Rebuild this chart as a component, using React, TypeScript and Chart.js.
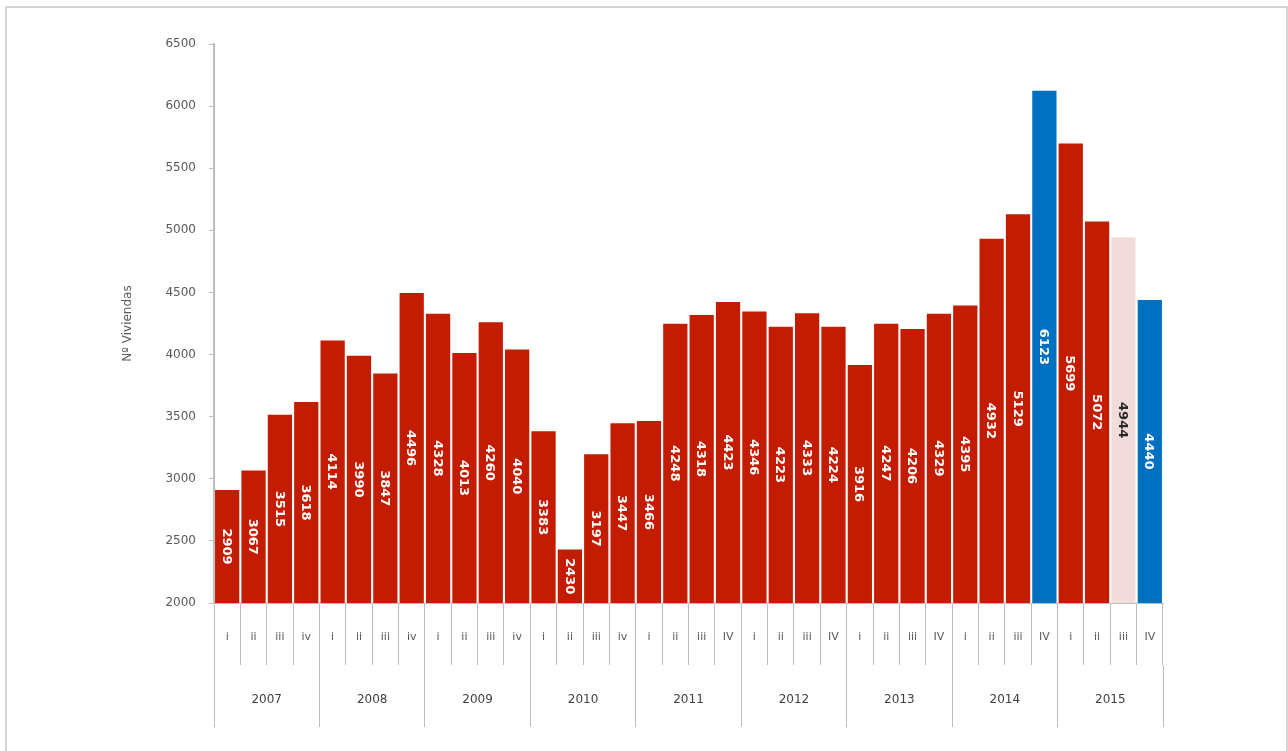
import React, { useEffect, useRef } from "react";
import { Chart, registerables } from "chart.js";

Chart.register(...registerables);

// quarterly figures, 2007-I .. 2015-IV
const years = ["2007", "2008", "2009", "2010", "2011", "2012", "2013", "2014", "2015"];
const quarters = [
  "i", "ii", "iii", "iv",
  "i", "ii", "iii", "iv",
  "i", "ii", "iii", "iv",
  "i", "ii", "iii", "iv",
  "i", "ii", "iii", "IV",
  "i", "ii", "iii", "IV",
  "i", "ii", "iii", "IV",
  "i", "ii", "iii", "IV",
  "i", "ii", "iii", "IV",
];
const viviendas = [
  2909, 3067, 3515, 3618,
  4114, 3990, 3847, 4496,
  4328, 4013, 4260, 4040,
  3383, 2430, 3197, 3447,
  3466, 4248, 4318, 4423,
  4346, 4223, 4333, 4224,
  3916, 4247, 4206, 4329,
  4395, 4932, 5129, 6123,
  5699, 5072, 4944, 4440,
];
const yTicks = [2000, 2500, 3000, 3500, 4000, 4500, 5000, 5500, 6000, 6500];

const RED = "#C41C00";
const BLUE = "#0070C0";
const PINK = "#F2DCDB";
const AXIS = "#BDBDBD";

const blueBars = [31, 35];
const pinkBars = [34];

const barColor = (i: number) =>
  blueBars.includes(i) ? BLUE : pinkBars.includes(i) ? PINK : RED;

const valueLabels = {
  id: "valueLabels",
  afterDatasetsDraw(chart: Chart) {
    const { ctx, chartArea } = chart;
    const meta = chart.getDatasetMeta(0);
    ctx.save();
    ctx.font = "bold 13px 'DejaVu Sans'";
    ctx.textAlign = "center";
    ctx.textBaseline = "middle";
    meta.data.forEach((bar: any, i: number) => {
      const { x, y, base } = bar.getProps(["x", "y", "base"], true);
      // bars start at 0, the visible part ends at the bottom of the plot
      const bottom = Math.min(base, chartArea.bottom);
      ctx.save();
      ctx.translate(x, (y + bottom) / 2);
      ctx.rotate(Math.PI / 2);
      ctx.fillStyle = pinkBars.includes(i) ? "#262626" : "#ffffff";
      ctx.fillText(String(viviendas[i]), 0, 1);
      ctx.restore();
    });
    ctx.restore();
  },
};

const App: React.FC = () => {
  const canvasRef = useRef<HTMLCanvasElement | null>(null);
  const chartRef = useRef<Chart | null>(null);

  useEffect(() => {
    document.body.style.margin = "0";
    if (!canvasRef.current) return;
    const ctx = canvasRef.current.getContext("2d");
    if (!ctx) return;

    chartRef.current?.destroy();
    chartRef.current = new Chart(ctx, {
      type: "bar",
      data: {
        labels: quarters,
        datasets: [
          {
            label: "Nº Viviendas",
            data: viviendas,
            backgroundColor: viviendas.map((_, i) => barColor(i)),
            barPercentage: 0.92,
            categoryPercentage: 1,
            xAxisID: "x",
            yAxisID: "y",
          },
        ],
      },
      options: {
        responsive: false,
        animation: false,
        layout: { padding: { left: 0, top: 44, right: 125, bottom: 24 } },
        plugins: {
          legend: { display: false },
          tooltip: { enabled: false },
        },
        scales: {
          x: {
            type: "category",
            position: "bottom",
            weight: 0,
            offset: true,
            grid: {
              offset: true,
              drawOnChartArea: false,
              tickLength: 62,
              color: AXIS,
              lineWidth: 1,
            },
            border: { color: AXIS },
            ticks: {
              autoSkip: false,
              maxRotation: 0,
              padding: -34,
              color: "#595959",
              font: { family: "'DejaVu Sans'", size: 11 },
            },
            afterFit: (scale: any) => {
              scale.height = 62;
            },
          },
          x2: {
            type: "category",
            labels: years,
            position: "bottom",
            weight: 1,
            offset: true,
            grid: {
              offset: true,
              drawOnChartArea: false,
              tickLength: 62,
              color: AXIS,
              lineWidth: 1,
            },
            border: { display: false },
            ticks: {
              autoSkip: false,
              maxRotation: 0,
              padding: -34,
              color: "#404040",
              font: { family: "'DejaVu Sans'", size: 12 },
            },
            afterFit: (scale: any) => {
              scale.height = 62;
            },
          },
          y: {
            min: yTicks[0],
            max: yTicks[yTicks.length - 1],
            afterBuildTicks: (scale: any) => {
              scale.ticks = yTicks.map((v) => ({ value: v }));
            },
            grid: {
              drawOnChartArea: false,
              tickLength: 5,
              color: AXIS,
            },
            border: { color: AXIS, width: 2 },
            ticks: {
              padding: 13,
              color: "#595959",
              font: { family: "'DejaVu Sans'", size: 12 },
              callback: (value: any) => String(value),
            },
            title: {
              display: true,
              text: "Nº Viviendas",
              color: "#595959",
              padding: { top: 121, bottom: 0 },
              font: { family: "'DejaVu Sans'", size: 12 },
            },
            afterFit: (scale: any) => {
              scale.width = 214;
            },
          },
        },
      },
      plugins: [valueLabels],
    });

    const current = chartRef.current;
    return () => {
      current?.destroy();
    };
  }, []);

  return (
    <div style={{ position: "relative", width: 1288, height: 751, overflow: "hidden", background: "#fff" }}>
      <div
        style={{
          position: "absolute",
          left: 5,
          top: 6,
          width: 1283,
          height: 800,
          boxSizing: "border-box",
          border: "2px solid #D6D6D6",
        }}
      />
      <canvas
        ref={canvasRef}
        width={1288}
        height={751}
        style={{ position: "absolute", left: 0, top: 0, width: 1288, height: 751 }}
      />
    </div>
  );
};

export default App;
